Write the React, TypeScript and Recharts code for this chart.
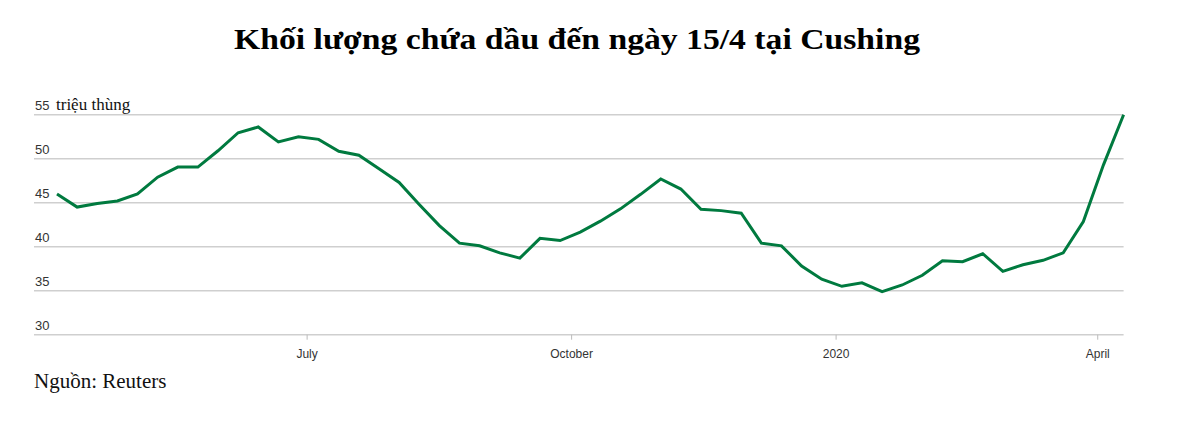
import React from "react";
import { LineChart, Line, XAxis, YAxis, CartesianGrid } from "recharts";

// Weekly Cushing stocks (million barrels), week ending Friday
const weekDates = [
  "2019-04-05", "2019-04-12", "2019-04-19", "2019-04-26",
  "2019-05-03", "2019-05-10", "2019-05-17", "2019-05-24", "2019-05-31",
  "2019-06-07", "2019-06-14", "2019-06-21", "2019-06-28",
  "2019-07-05", "2019-07-12", "2019-07-19", "2019-07-26",
  "2019-08-02", "2019-08-09", "2019-08-16", "2019-08-23", "2019-08-30",
  "2019-09-06", "2019-09-13", "2019-09-20", "2019-09-27",
  "2019-10-04", "2019-10-11", "2019-10-18", "2019-10-25",
  "2019-11-01", "2019-11-08", "2019-11-15", "2019-11-22", "2019-11-29",
  "2019-12-06", "2019-12-13", "2019-12-20", "2019-12-27",
  "2020-01-03", "2020-01-10", "2020-01-17", "2020-01-24", "2020-01-31",
  "2020-02-07", "2020-02-14", "2020-02-21", "2020-02-28",
  "2020-03-06", "2020-03-13", "2020-03-20", "2020-03-27",
  "2020-04-03", "2020-04-10",
];

const stocks = [
  46.0, 44.5, 44.9, 45.2,
  46.0, 47.9, 49.05, 49.05, 50.9,
  52.95, 53.6, 51.9, 52.5,
  52.2, 50.85, 50.4, 48.85,
  47.3, 44.8, 42.4, 40.4, 40.1,
  39.3, 38.7, 40.95, 40.7,
  41.65, 42.9, 44.3, 45.95,
  47.7, 46.55, 44.25, 44.1, 43.8,
  40.4, 40.1, 37.8, 36.3,
  35.5, 35.9, 34.9, 35.65, 36.75,
  38.4, 38.3, 39.2, 37.2,
  37.95, 38.45, 39.3, 42.85,
  49.3, 55.0,
];

const xTickDates = ["2019-07-01", "2019-10-01", "2020-01-01", "2020-04-01"];
const xTickLabels = ["July", "October", "2020", "April"];
const yTicks = [30, 35, 40, 45, 50, 55];

const toTime = (s: string) => new Date(s + "T00:00:00Z").getTime();

const data = weekDates.map((d, i) => ({ t: toTime(d), value: stocks[i] }));
const xTicks = xTickDates.map(toTime);
const xDomain = [toTime("2019-03-28"), toTime("2020-04-10")];

const sans = "'Liberation Sans', Arial, sans-serif";
const serif = "'Liberation Serif', 'Times New Roman', serif";

const YTick = (props: any) => {
  const { y, payload } = props;
  return (
    <g>
      <text x={35} y={y - 5} fontFamily={sans} fontSize={13} fill="#333">
        {payload.value}
      </text>
      {payload.value === 55 && (
        <text x={56} y={y - 5} fontFamily={serif} fontSize={17} fill="#111">
          triệu thùng
        </text>
      )}
    </g>
  );
};

const XTick = (props: any) => {
  const { x, y, payload } = props;
  const idx = xTicks.indexOf(payload.value);
  return (
    <text x={x} y={y} dy="0.71em" textAnchor="middle" fontFamily={sans} fontSize={12} fill="#333">
      {xTickLabels[idx]}
    </text>
  );
};

export default function App() {
  return (
    <div style={{ position: "absolute", left: 0, top: 0, width: 1177, height: 423, background: "#fff" }}>
      <LineChart
        width={1177}
        height={423}
        data={data}
        margin={{ top: 114.7, right: 53.4, bottom: 58.3, left: 24 }}
      >
        <CartesianGrid horizontal vertical={false} stroke="#cfcfcf" strokeWidth={1.5} />
        <XAxis
          dataKey="t"
          type="number"
          scale="time"
          domain={xDomain}
          ticks={xTicks}
          height={30}
          axisLine={false}
          tickLine={{ stroke: "#bbb" }}
          tickSize={5}
          tickMargin={10}
          tick={(p: any) => <XTick {...p} />}
        />
        <YAxis
          type="number"
          domain={[30, 55]}
          ticks={yTicks}
          width={10}
          axisLine={false}
          tickLine={false}
          interval={0}
          tick={(p: any) => <YTick {...p} />}
        />
        <Line
          type="linear"
          dataKey="value"
          stroke="#007a3f"
          strokeWidth={3}
          dot={false}
          isAnimationActive={false}
        />
      </LineChart>
      <svg
        width={1177}
        height={423}
        style={{ position: "absolute", left: 0, top: 0, pointerEvents: "none" }}
      >
        <text
          x={577}
          y={48.5}
          textAnchor="middle"
          fontFamily={serif}
          fontWeight="bold"
          fontSize={30}
          textLength={686}
          lengthAdjust="spacingAndGlyphs"
          fill="#000"
        >
          Khối lượng chứa dầu đến ngày 15/4 tại Cushing
        </text>
        <text x={34} y={388} fontFamily={serif} fontSize={21} fill="#111">
          Nguồn: Reuters
        </text>
      </svg>
    </div>
  );
}
